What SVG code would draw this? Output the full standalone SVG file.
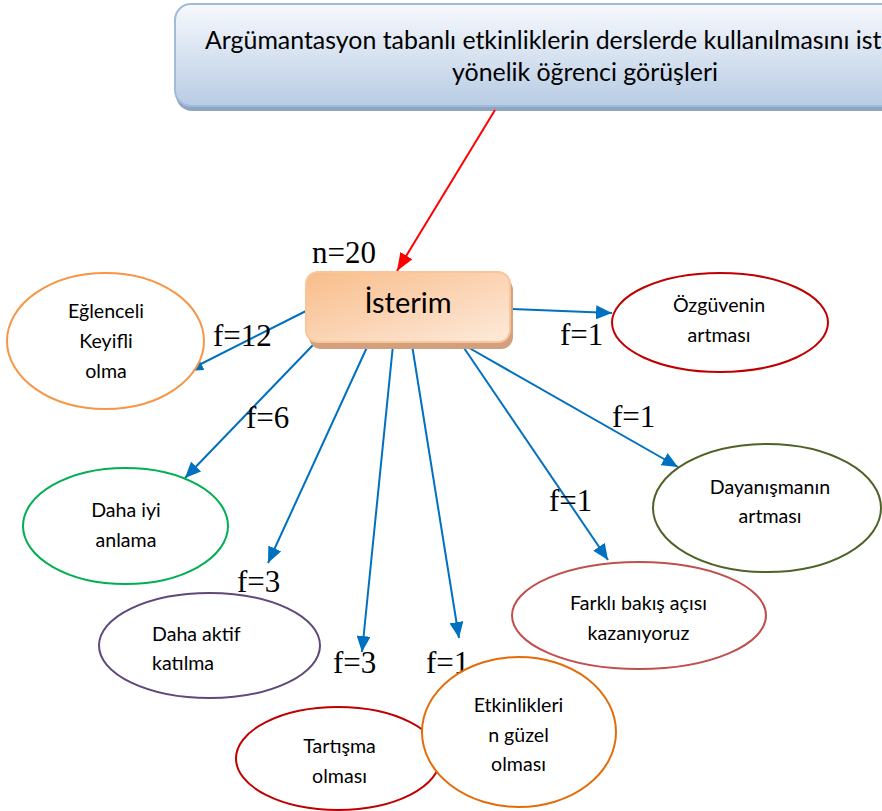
<svg xmlns="http://www.w3.org/2000/svg" width="882" height="811" viewBox="0 0 882 811">
<defs>
<linearGradient id="gTop" x1="0" y1="0" x2="0" y2="1">
<stop offset="0" stop-color="#f7f9fd"/>
<stop offset="1" stop-color="#b8cce4"/>
</linearGradient>
<linearGradient id="gCen" x1="0" y1="0" x2="1" y2="1">
<stop offset="0" stop-color="#f9bd8a"/>
<stop offset="1" stop-color="#fdeadb"/>
</linearGradient>
<marker id="ab" markerUnits="userSpaceOnUse" markerWidth="16" markerHeight="14" viewBox="0 0 16 14" refX="16" refY="7" orient="auto">
<path d="M0,0 L16,7 L0,14 Z" fill="#0070c0"/>
</marker>
<marker id="ar" markerUnits="userSpaceOnUse" markerWidth="18" markerHeight="14" viewBox="0 0 18 14" refX="18" refY="7" orient="auto">
<path d="M0,0 L18,7 L0,14 Z" fill="#ff0000"/>
</marker>
</defs>
<style>
.t{font-family:Lato,"Liberation Sans",sans-serif;fill:#000}
.el{font-size:19.6px;text-anchor:middle}
.f{font-family:"Liberation Serif","Times New Roman",serif;font-size:31px;fill:#000}
.bl{stroke:#0070c0;stroke-width:2;fill:none;marker-end:url(#ab)}
.node{fill:#fff;stroke-width:2}
</style>
<rect width="882" height="811" fill="#fff"/>
<g id="title">
<rect x="176" y="8" width="760" height="103" rx="16" fill="#8fa5c2"/>
<rect x="175" y="4" width="760" height="102" rx="16" fill="url(#gTop)" stroke="#9fbadb" stroke-width="2"/>
<text class="t" x="205" y="49" font-size="24.9">Argümantasyon tabanlı etkinliklerin derslerde kullanılmasını ist</text>
<text class="t" x="585" y="81" font-size="24.9" text-anchor="middle">yönelik öğrenci görüşleri</text>
</g>
<g id="connectors">
<line x1="495" y1="110" x2="397" y2="271" stroke="#ff0000" stroke-width="2" marker-end="url(#ar)"/>
<line class="bl" x1="306" y1="311" x2="187" y2="371"/>
<line class="bl" x1="313" y1="345" x2="185" y2="478"/>
<line class="bl" x1="368" y1="345" x2="268" y2="563"/>
<line class="bl" x1="393" y1="345" x2="362" y2="652"/>
<line class="bl" x1="412" y1="345" x2="459" y2="638"/>
<line class="bl" x1="462" y1="345" x2="608" y2="560"/>
<line class="bl" x1="464" y1="345" x2="678" y2="467"/>
<line class="bl" x1="512" y1="309" x2="612" y2="313"/>
</g>
<g id="labels">
<text class="f" x="312" y="263">n=20</text>
<text class="f" x="213" y="346">f=12</text>
<text class="f" x="246" y="428">f=6</text>
<text class="f" x="237" y="592">f=3</text>
<text class="f" x="333" y="673">f=3</text>
<text class="f" x="426" y="673">f=1</text>
<text class="f" x="549" y="511">f=1</text>
<text class="f" x="612" y="427">f=1</text>
<text class="f" x="560" y="345">f=1</text>
</g>
<g id="isterim">
<rect x="309" y="278" width="204" height="71" rx="12" fill="#d2a07c"/>
<rect x="306" y="272" width="204" height="70" rx="12" fill="url(#gCen)" stroke="#f9c59a" stroke-width="2"/>
<text class="t" x="408" y="313" font-size="29" text-anchor="middle">İsterim</text>
</g>
<g id="eglenceli">
<ellipse class="node" cx="105.5" cy="341" rx="98.5" ry="68" stroke="#f79646"/>
<text class="t el" x="106" y="318">Eğlenceli</text>
<text class="t el" x="106" y="348">Keyifli</text>
<text class="t el" x="106" y="378">olma</text>
</g>
<g id="daha-iyi">
<ellipse class="node" cx="125.5" cy="526" rx="102.5" ry="58" stroke="#00b050"/>
<text class="t el" x="126" y="517">Daha iyi</text>
<text class="t el" x="126" y="547">anlama</text>
</g>
<g id="daha-aktif">
<ellipse class="node" cx="209.5" cy="645.5" rx="110.5" ry="52.5" stroke="#5f497a"/>
<text class="t" font-size="19.6" x="152" y="641">Daha aktif</text>
<text class="t" font-size="19.6" x="152" y="670">katılma</text>
</g>
<g id="tartisma">
<ellipse class="node" cx="338" cy="758.5" rx="102" ry="51.5" stroke="#c00000"/>
<text class="t el" x="339.5" y="753">Tartışma</text>
<text class="t el" x="339.5" y="783">olması</text>
</g>
<g id="etkinlikleri">
<ellipse class="node" cx="519" cy="732" rx="97" ry="75" stroke="#e36c09"/>
<text class="t el" x="518.5" y="712">Etkinlikleri</text>
<text class="t el" x="518.5" y="742">n güzel</text>
<text class="t el" x="518.5" y="771">olması</text>
</g>
<g id="farkli">
<ellipse class="node" cx="639" cy="615.5" rx="127" ry="53.5" stroke="#c0504d"/>
<text class="t el" x="638.5" y="610">Farklı bakış açısı</text>
<text class="t el" x="638.5" y="640">kazanıyoruz</text>
</g>
<g id="dayanisma">
<ellipse class="node" cx="767" cy="508" rx="114" ry="64" stroke="#4f6228"/>
<text class="t el" x="770" y="494">Dayanışmanın</text>
<text class="t el" x="770" y="523">artması</text>
</g>
<g id="ozguven">
<ellipse class="node" cx="720" cy="322.5" rx="108" ry="49.5" stroke="#c00000"/>
<text class="t el" x="719" y="312">Özgüvenin</text>
<text class="t el" x="719" y="342">artması</text>
</g>
</svg>
